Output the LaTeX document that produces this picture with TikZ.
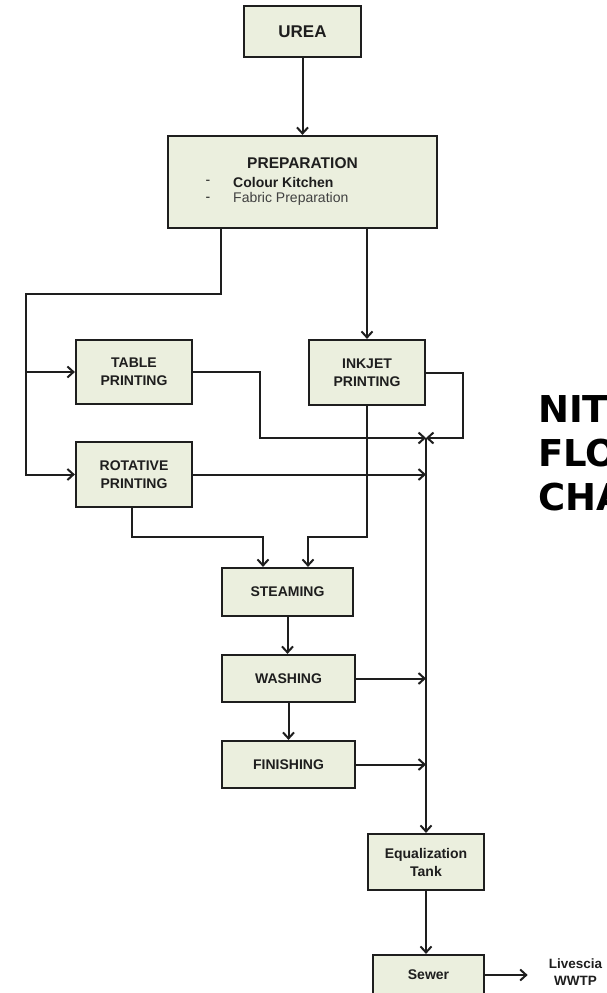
\documentclass[tikz,border=0pt]{standalone}
\usepackage{fontspec}
\setmainfont{Liberation Sans}
\newfontfamily\titlefont{DejaVu Sans}
\usetikzlibrary{arrows.meta,calc}
\definecolor{boxfill}{RGB}{235,239,222}
\definecolor{ink}{RGB}{30,30,30}
\begin{document}
\begin{tikzpicture}[x=1pt,y=-1pt,
  box/.style={draw=ink, line width=2.2pt, fill=boxfill, align=center, inner sep=0pt,
    font=\fontsize{14}{18}\selectfont\bfseries, text=ink},
  lbl/.style={inner sep=0pt, text=ink, font=\fontsize{14}{18}\selectfont},
  arr/.style={draw=ink, line width=2pt, -{Straight Barb[length=6pt,width=11pt,line width=2pt]}},
  ttl/.style={anchor=base west, inner sep=0pt, text=black, font=\titlefont\fontsize{37}{44}\selectfont\bfseries}]
\useasboundingbox (0,0) rectangle (607,993);
\clip (0,0) rectangle (607,993);
\fill[white] (0,0) rectangle (607,993);

% boxes
\node[box, minimum width=117pt, minimum height=51pt, font=\fontsize{17}{20}\selectfont\bfseries] (urea) at (302.5,31.5) {UREA};
\node[box, minimum width=269pt, minimum height=92pt] (prep) at (302.5,182) {};
\node[lbl, font=\fontsize{15.5}{18}\selectfont\bfseries] (prept) at (302.5,163) {PREPARATION};
\node[lbl] (dasha) at (208,182) {-};
\node[lbl, anchor=west, font=\fontsize{14}{18}\selectfont\bfseries] (prepa) at (233,182) {Colour Kitchen};
\node[lbl] (dashb) at (208,199) {-};
\node[lbl, anchor=west, text=ink!85] (prepb) at (233,199) {Fabric Preparation};

\node[box, minimum width=116pt, minimum height=64pt] (table) at (134,372) {TABLE\\PRINTING};
\node[box, minimum width=116pt, minimum height=65pt] (inkjet) at (367,372.5) {INKJET\\PRINTING};
\node[box, minimum width=116pt, minimum height=65pt] (rot) at (134,474.5) {ROTATIVE\\PRINTING};
\node[box, minimum width=131pt, minimum height=48pt] (steam) at (287.5,592) {STEAMING};
\node[box, minimum width=133pt, minimum height=47pt] (wash) at (288.5,678.5) {WASHING};
\node[box, minimum width=133pt, minimum height=47pt] (finish) at (288.5,764.5) {FINISHING};
\node[box, minimum width=116pt, minimum height=56pt] (eq) at (426,862) {Equalization\\Tank};
\node[box, minimum width=111pt, minimum height=40pt] (sewer) at (428.5,975) {Sewer};
\node[lbl, align=center, font=\fontsize{13.5}{17}\selectfont\bfseries] (liv) at (575.5,972) {Livescia\\WWTP};

% title
\node[ttl] (t1) at (538,422) {NIT};
\node[ttl] (t2) at (538,466) {FLO};
\node[ttl] (t3) at (538,510) {CHA};

% coordinates
\coordinate (trunk) at (26,294);
\coordinate (cj) at (426,438);
\coordinate (tb) at (260,438);
\coordinate (ib) at (463,438);
\coordinate (sj) at (308,537);
\coordinate (sr) at (263,537);

% connectors
\draw[arr] (urea.south) -- (prep.north);
\draw[arr] ([xshift=54pt]prep.south west) |- (trunk) |- (rot.west);
\draw[arr] (trunk |- table.west) -- (table.west);
\draw[arr] (prep.south -| inkjet.north) -- (inkjet.north);

\draw[arr] (table.east) -| (tb) -- (cj);
\draw[arr] (inkjet.east) -| (ib) -- (cj);
\draw[arr] (rot.east) -- (rot.east -| cj);
\draw[arr] (cj) -- (eq.north);

\draw[arr] (inkjet.south) |- (sj) -- (sj |- steam.north);
\draw[arr] ([xshift=-2pt]rot.south) |- (sr) -- (sr |- steam.north);

\draw[arr] (steam.south) -- (steam.south |- wash.north);
\draw[arr] (wash.south) -- (wash.south |- finish.north);
\draw[arr] (wash.east) -- (wash.east -| cj);
\draw[arr] (finish.east) -- (finish.east -| cj);

\draw[arr] (eq.south) -- (eq.south |- sewer.north);
\draw[arr, shorten >=21pt] (sewer.east) -- (sewer.east -| liv.west);
\end{tikzpicture}
\end{document}
